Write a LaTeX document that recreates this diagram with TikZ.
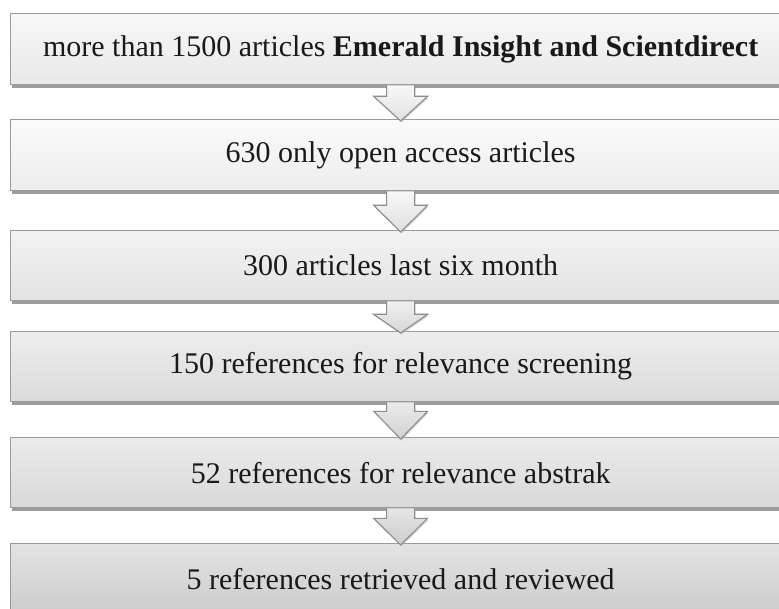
\documentclass[tikz,border=0pt]{standalone}
\usepackage{fontspec}
\setmainfont{Liberation Serif}
\usetikzlibrary{shadows,calc}
\definecolor{edgegray}{HTML}{9A9A9A}
\definecolor{arrowgray}{HTML}{8C8C8C}
\begin{document}
\begin{tikzpicture}[x=1pt,y=-1pt,
  stagebox/.style={draw=edgegray, line width=1.3pt, rectangle, minimum width=780pt, minimum height=70pt,
    anchor=north west, inner sep=0pt, font=\fontsize{30}{36}\selectfont, text=black!90,
    drop shadow={shadow xshift=1.5pt, shadow yshift=-3pt, fill=black!55, opacity=0.7}},
  downarrow/.style={draw=arrowgray, line width=1.1pt, line join=miter}
]
\useasboundingbox (0,0) rectangle (779,609);
\clip (0,0) rectangle (779,609);
\fill[white] (0,0) rectangle (779,609);

\node[stagebox, top color=white!97!black, bottom color=white!91!black, minimum height=71pt] (b1) at (10,13)
  {more than 1500 articles \textbf{Emerald Insight and Scientdirect}};
\node[stagebox, top color=white!98!black, bottom color=white!93!black, minimum height=71pt] (b2) at (10,119)
  {630 only open access articles};
\node[stagebox, top color=white!95!black, bottom color=white!89!black] (b3) at (10,230)
  {300 articles last six month};
\node[stagebox, top color=white!93!black, bottom color=white!86!black] (b4) at (10,331)
  {150 references for relevance screening};
\node[stagebox, top color=white!92!black, bottom color=white!85!black] (b5) at (10,437)
  {52 references for relevance abstrak};
\node[stagebox, top color=white!89!black, bottom color=white!80!black] (b6) at (10,543)
  {5 references retrieved and reviewed};

% arrows
\foreach \a/\b/\j/\sh/\fc in {b1/b2/11/white!97!black/white!88!black,
                          b2/b3/14/white!97!black/white!87!black,
                          b3/b4/13/white!94!black/white!84!black,
                          b4/b5/9/white!92!black/white!82!black,
                          b5/b6/10/white!90!black/white!80!black}{
  \path let \p1=($(\a.south)+(-10,0)$), \p2=($(\b.north)+(-10,2)$) in
    coordinate (s) at (\x1+10,\y1) coordinate (t) at (\x2+10,\y2);
  \draw[downarrow, top color=\sh, bottom color=\fc, drop shadow={shadow xshift=1pt, shadow yshift=-1.5pt, fill=black!30, opacity=0.5}]
    ($(s)+(-14,0)$) -- ($(s)+(-14,\j)$) -- ($(s)+(-27,\j)$) -- (t)
    -- ($(s)+(27,\j)$) -- ($(s)+(14,\j)$) -- ($(s)+(14,0)$);
}
\end{tikzpicture}
\end{document}
